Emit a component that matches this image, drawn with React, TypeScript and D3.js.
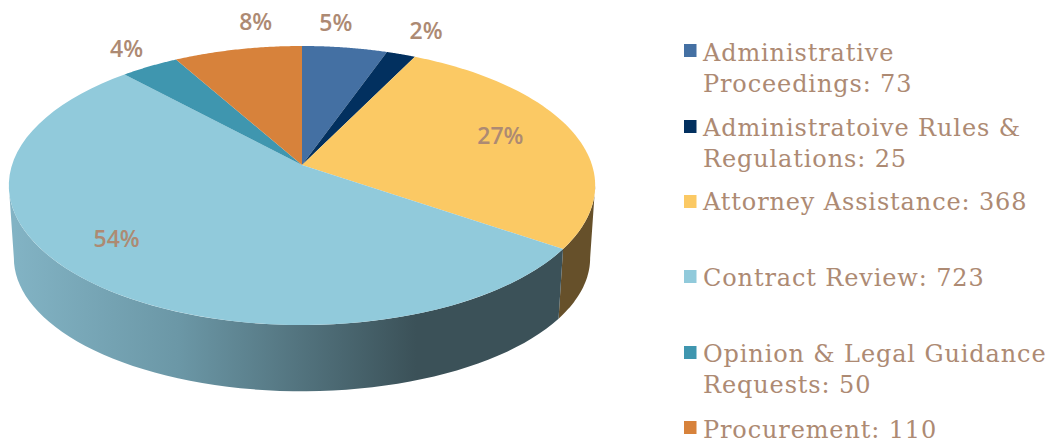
import React from 'react';
import * as d3 from 'd3';

const categories = [
  'Administrative Proceedings',
  'Administratoive Rules & Regulations',
  'Attorney Assistance',
  'Contract Review',
  'Opinion & Legal Guidance Requests',
  'Procurement',
];
const values = [73, 25, 368, 723, 50, 110];
const topColors = ['#4470a3', '#02305f', '#fbc964', '#91cadb', '#3f96af', '#d7823b'];
const legendLines = [
  ['Administrative', 'Proceedings: 73'],
  ['Administratoive Rules &', 'Regulations: 25'],
  ['Attorney Assistance: 368'],
  ['Contract Review: 723'],
  ['Opinion & Legal Guidance', 'Requests: 50'],
  ['Procurement: 110'],
];
const legendY = [50, 126, 201, 276, 352, 427];
const legendBaselines = [[61, 92], [136, 167], [210], [286], [362, 393], [438]];
const labelOffsets = [[-9, -25], [25, -24], [-72, 3], [28, -43], [-23, -18], [18, -28]];

const width = 1052;
const height = 443;
const textColor = '#ad8a73';

// perspective of the disc: k tilts it, apexY is where the wedges meet
const k = 0.147;
const top = { apexY: 165, A: 136.5, B: 290 };
const bottom = { apexY: 238.4, A: 130.4, B: 285 };
const cx = 302;

function project(angle: number, disc: typeof top, r = 1): [number, number] {
  const u = r * Math.sin(angle);
  const v = -r * Math.cos(angle);
  const d = 1 - k * v;
  return [cx + (disc.B * u) / d, disc.apexY + (disc.A * v) / d];
}

const arcAngles = (a: number, b: number) =>
  d3.range(0, 61).map(i => a + ((b - a) * i) / 60);

const line = d3.line();

export default function App() {
  const pie = d3.pie<number>().sort(null).startAngle(0).endAngle(2 * Math.PI);
  const slices = pie(values);
  const color = d3.scaleOrdinal<string, string>().domain(categories).range(topColors);
  const total = d3.sum(values);
  const pct = d3.format('.0%');

  // only the part of the rim between the two silhouette tangents shows a wall
  const wallStart = Math.acos(-k);
  const wallEnd = 2 * Math.PI - wallStart;

  const wall = (s: d3.PieArcDatum<number>) => {
    const a = Math.max(s.startAngle, wallStart);
    const b = Math.min(s.endAngle, wallEnd);
    if (b <= a) return null;
    const upper = arcAngles(a, b).map(t => project(t, top));
    const lower = arcAngles(a, b).reverse().map(t => project(t, bottom));
    return line([...upper, ...lower]) + 'Z';
  };

  const wedge = (s: d3.PieArcDatum<number>) => {
    const rim = arcAngles(s.startAngle, s.endAngle).map(t => project(t, top));
    return line([[cx, top.apexY], ...rim]) + 'Z';
  };

  return (
    <svg width={width} height={height} style={{ position: 'absolute', left: 0, top: 0 }}>
      <defs>
        <linearGradient id="wallBlue" gradientUnits="userSpaceOnUse" x1={14} x2={565} y1={0} y2={0}>
          <stop offset="0" stopColor="#82b3c4" />
          <stop offset="0.3" stopColor="#6b97a6" />
          <stop offset="0.73" stopColor="#3b5158" />
          <stop offset="1" stopColor="#3b5158" />
        </linearGradient>
      </defs>

      {slices.map((s, i) => {
        const d = wall(s);
        if (!d) return null;
        const fill = categories[i] === 'Contract Review' ? 'url(#wallBlue)' : '#66502a';
        return <path key={i} d={d} fill={fill} />;
      })}
      {slices.map((s, i) => (
        <path key={i} d={wedge(s)} fill={color(categories[i])} />
      ))}

      {slices.map((s, i) => {
        const [x, y] = project((s.startAngle + s.endAngle) / 2, top);
        return (
          <text
            key={i}
            x={x + labelOffsets[i][0]}
            y={y + labelOffsets[i][1]}
            textAnchor="middle"
            dominantBaseline="central"
            fontFamily="'Open Sans', 'Noto Sans', sans-serif"
            fontWeight={600}
            fontSize={23}
            fill={textColor}
          >
            {pct(s.value / total)}
          </text>
        );
      })}

      {categories.map((c, i) => (
        <g key={c}>
          <rect x={684} y={legendY[i] - 6} width={12.5} height={13} fill={color(c)} />
          {legendLines[i].map((l, j) => (
            <text
              key={j}
              x={703}
              y={legendBaselines[i][j]}
              fontFamily="'DejaVu Serif', serif"
              fontSize={24}
              letterSpacing={0.87}
              fill={textColor}
            >
              {l}
            </text>
          ))}
        </g>
      ))}
    </svg>
  );
}
